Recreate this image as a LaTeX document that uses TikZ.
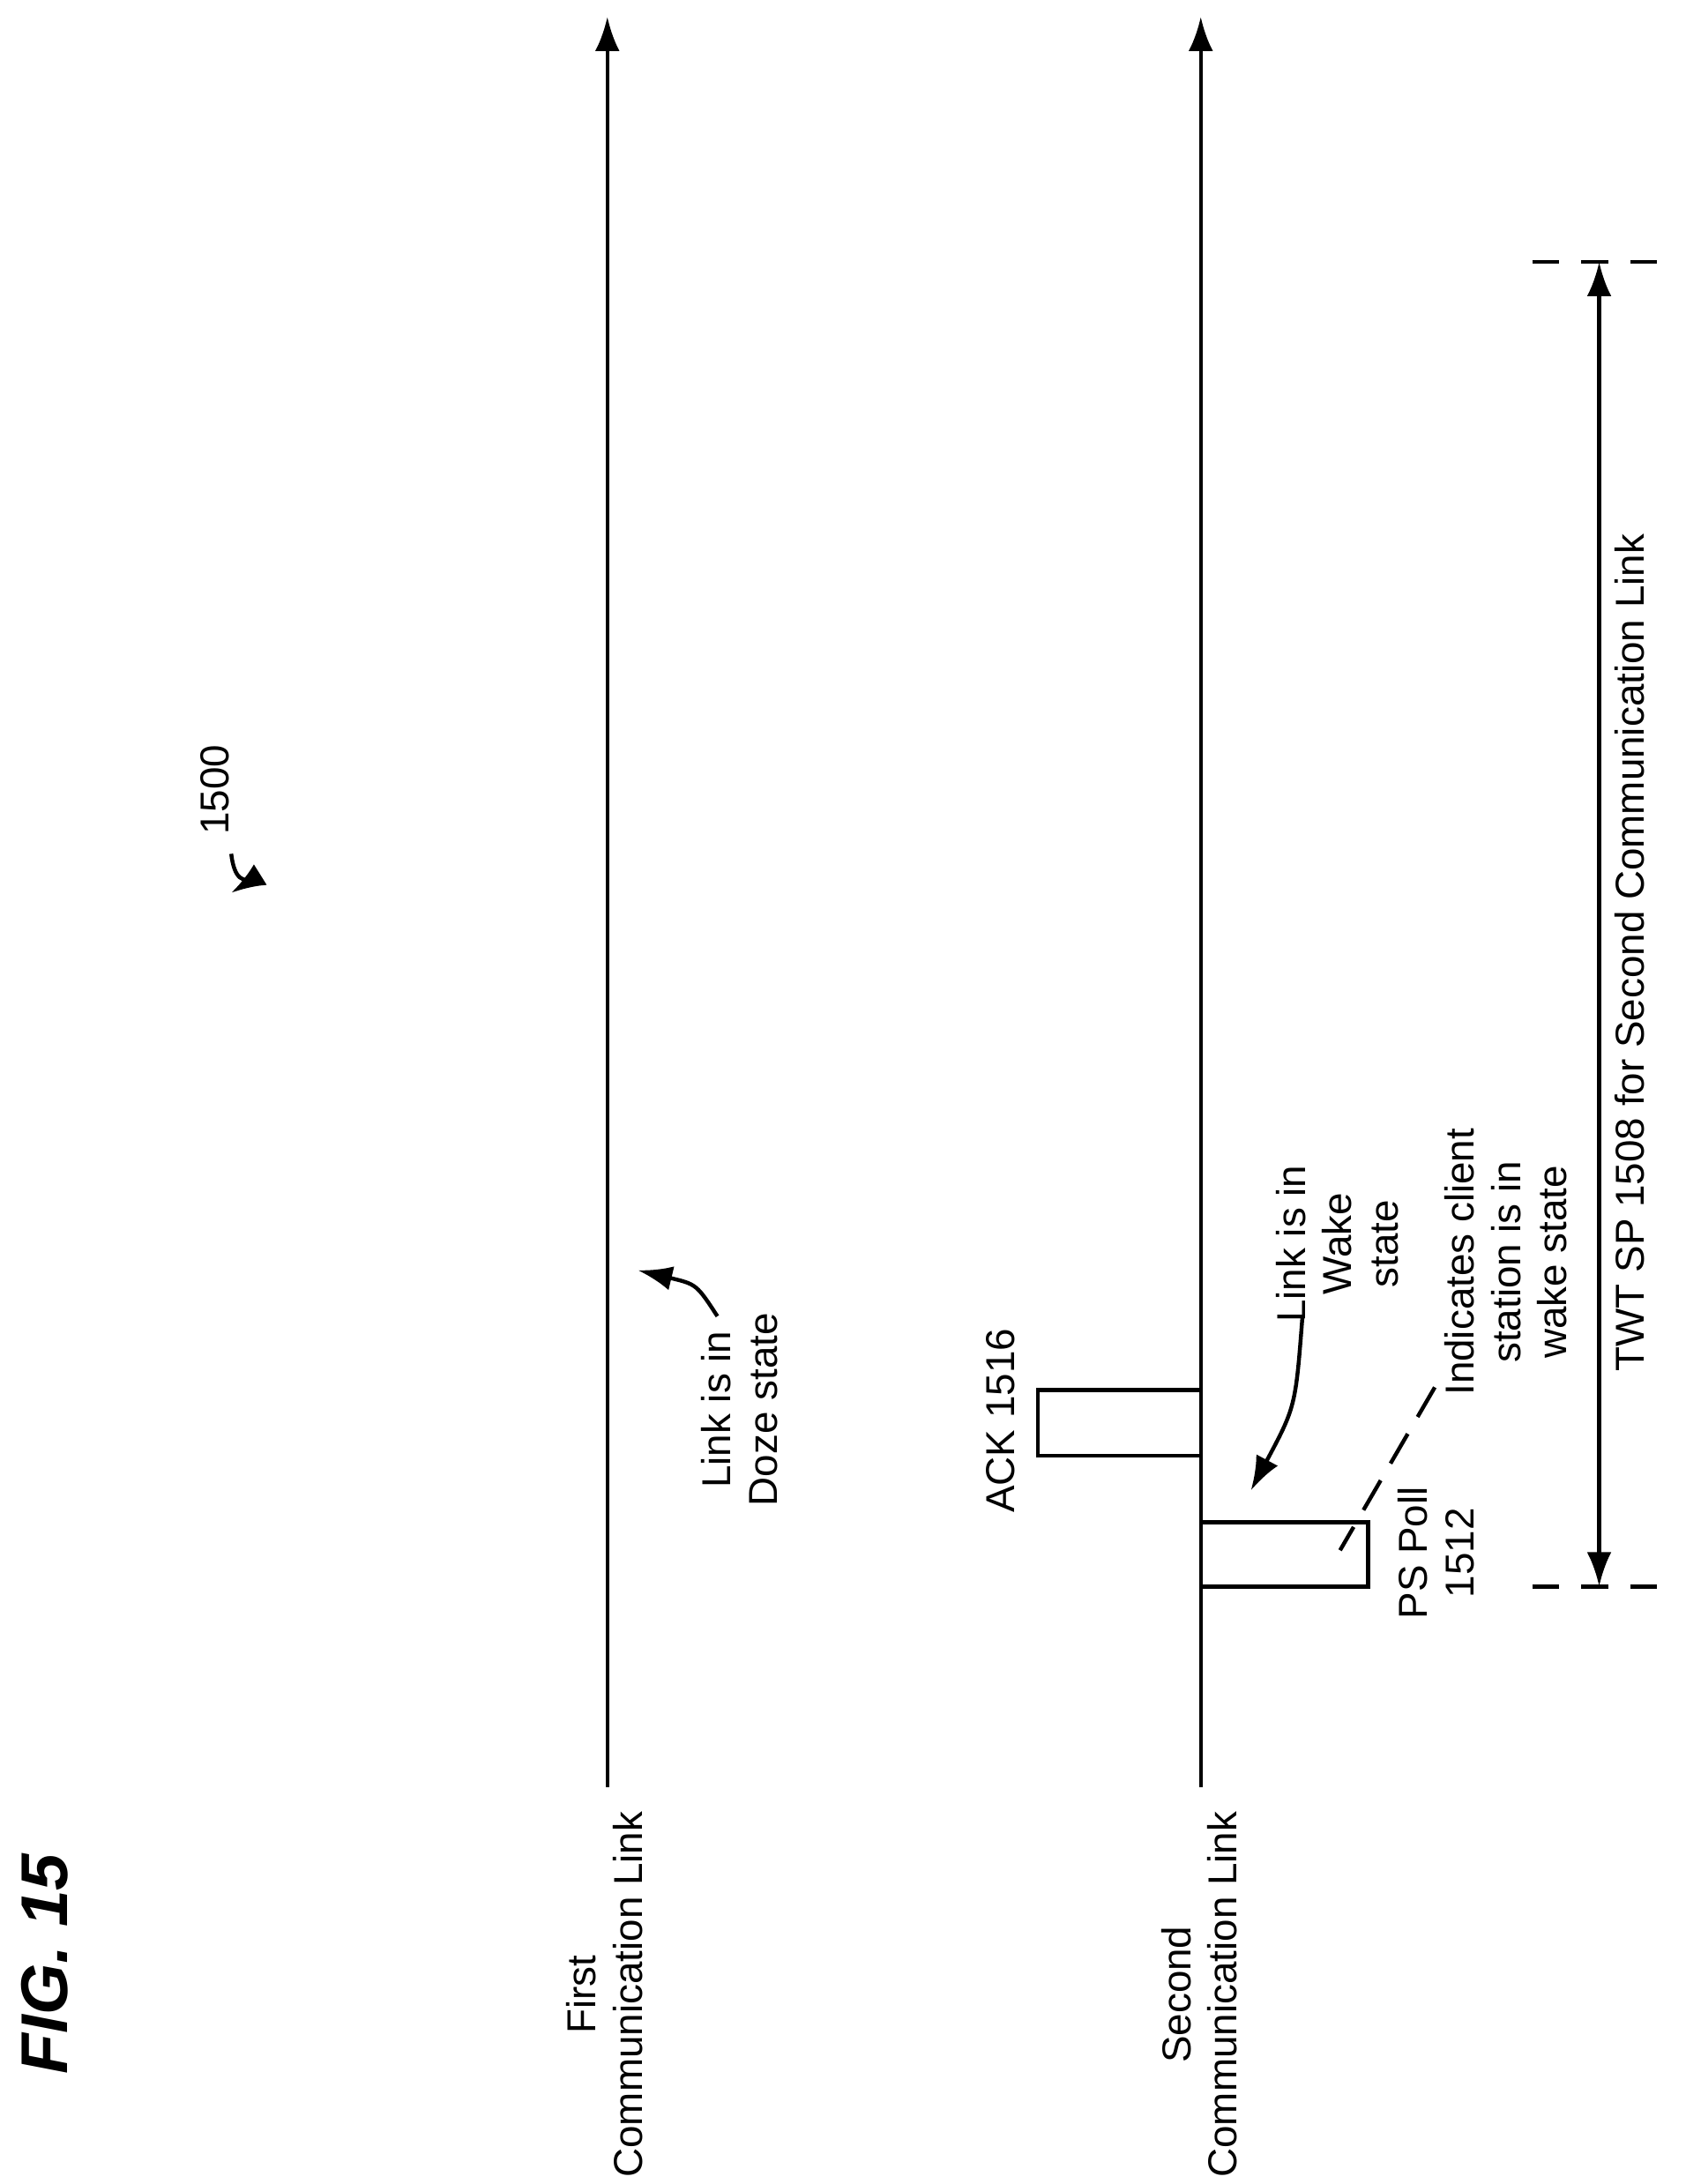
\documentclass[tikz,border=0pt]{standalone}
\usepackage{fontspec}
\setmainfont{Liberation Sans}
\usetikzlibrary{arrows.meta}

\begin{document}
\begin{tikzpicture}[x=0.02cm,y=-0.02cm,
    lbl/.style={rotate=90,align=center,inner sep=0pt,font=\fontsize{16.5}{19}\selectfont},
    tip/.style={-{Latex[length=14pt,width=10pt]},line width=1.6pt},
    every path/.style={line width=1.6pt}]

    \useasboundingbox (0,0) rectangle (1210,1568);

    % title and reference number
    \node[rotate=90,inner sep=0pt,font=\fontsize{27}{30}\selectfont\bfseries\itshape] (fig) at (32,1410) {FIG. 15};
    \node[lbl] (ref) at (154,567) {1500};
    \coordinate (refa) at (166,613);
    \coordinate (refb) at (166,641);
    \draw[tip] (refa) .. controls (168,630) and (174,636) .. (refb);

    % the two links
    \coordinate (l1a) at (436,1283);
    \coordinate (l1b) at (436,12);
    \coordinate (l2a) at (862,1283);
    \coordinate (l2b) at (862,12);
    \draw[tip] (l1a) -- (l1b);
    \draw[tip] (l2a) -- (l2b);
    \node[lbl] (first) at (434,1432) {First\\Communication Link};
    \node[lbl] (second) at (861,1432) {Second\\Communication Link};

    % frames
    \draw (862,998) -- (745,998) -- (745,1045) -- (862,1045);
    \node[lbl] (ack) at (718,1020) {ACK 1516};
    \draw (862,1093) -- (982,1093) -- (982,1139) -- (862,1139);
    \node[lbl] (poll) at (1031,1115) {PS Poll\\1512};

    % notes
    \node[lbl] (doze) at (531,1012) {Link is in\\Doze state};
    \coordinate (dozea) at (515,945);
    \coordinate (dozeb) at (458,912);
    \draw[tip] (dozea) .. controls (500,922) .. (dozeb);

    \node[lbl] (wake) at (960,893) {Link is in\\Wake\\state};
    \coordinate (wakea) at (935,945);
    \coordinate (wakeb) at (898,1070);
    \draw[tip] (wakea) .. controls (930,1010) .. (wakeb);

    \node[lbl] (ind) at (1081,906) {Indicates client\\station is in\\wake state};
    \coordinate (inda) at (1030,996);
    \coordinate (indb) at (962,1113);
    \draw[dash pattern=on 14pt off 8pt] (inda) -- (indb);

    % service period
    \coordinate (spa) at (1148,188);
    \coordinate (spb) at (1148,1139);
    \draw[dash pattern=on 11pt off 9pt] (1100,188) -- (1196,188);
    \draw[dash pattern=on 11pt off 9pt] (1100,1139) -- (1196,1139);
    \draw[{Latex[length=14pt,width=10pt]}-{Latex[length=14pt,width=10pt]}] (spa) -- (spb);
    \node[lbl] (twt) at (1170,684) {TWT SP 1508 for Second Communication Link};

\end{tikzpicture}
\end{document}
